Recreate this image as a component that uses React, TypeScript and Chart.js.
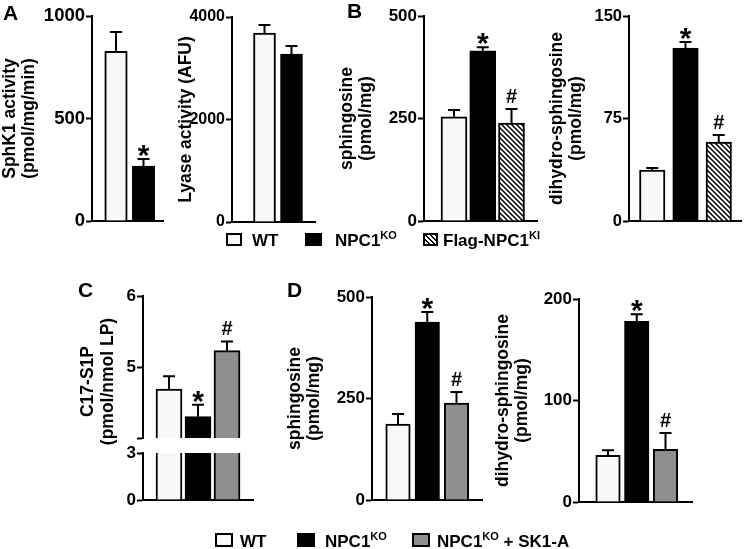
import React, { useEffect, useRef } from 'react';
import { Chart, registerables } from 'chart.js';
Chart.register(...registerables);

const FONT = '"Liberation Sans", Arial, Helvetica, sans-serif';

// ---------- data ----------
// Panel A
const groupsA = ['WT', 'NPC1KO'];
const sphk1Mean = [828, 268];
const sphk1Err = [94, 34];
const sphk1Marks = ['', '*'];
const sphk1Ticks = [0, 500, 1000];

const lyaseMean = [3688, 3278];
const lyaseErr = [156, 156];
const lyaseMarks = ['', ''];
const lyaseTicks = [0, 2000, 4000];

// Panel B
const groupsB = ['WT', 'NPC1KO', 'Flag-NPC1KI'];
const sphBMean = [254, 415, 239];
const sphBErr = [17, 9, 34];
const sphBMarks = ['', '*', '#'];
const sphBTicks = [0, 250, 500];

const dhsBMean = [37.3, 126.6, 57.8];
const dhsBErr = [1.5, 4.4, 5.2];
const dhsBMarks = ['', '*', '#'];
const dhsBTicks = [0, 75, 150];

// Panel C (broken axis)
const groupsC = ['WT', 'NPC1KO', 'NPC1KO + SK1-A'];
const c17Mean = [4.69, 4.3, 5.23];
const c17Err = [0.18, 0.17, 0.13];
const c17Marks = ['', '*', '#'];
const c17UpperTicks = [4, 5, 6];
const c17UpperLabels = ['', '5', '6'];
const c17LowerTicks = [0, 3];
const c17Break = 3;

// Panel D
const groupsD = ['WT', 'NPC1KO', 'NPC1KO + SK1-A'];
const sphDMean = [187, 438, 239];
const sphDErr = [25, 25, 27];
const sphDMarks = ['', '*', '#'];
const sphDTicks = [0, 250, 500];

const dhsDMean = [46, 178, 52];
const dhsDErr = [5, 7, 16];
const dhsDMarks = ['', '*', '#'];
const dhsDTicks = [0, 100, 200];

// ---------- styling ----------
const WT_FILL = '#f8f8f8';
const KO_FILL = '#000000';
const SK_FILL = '#8f8f8f';
const XH = 14;
const PR = 4;

function makeHatch(): CanvasPattern | string {
  const n = 5;
  const c = document.createElement('canvas');
  c.width = n;
  c.height = n;
  const g = c.getContext('2d');
  if (!g) return '#888';
  g.fillStyle = '#ffffff';
  g.fillRect(0, 0, n, n);
  g.strokeStyle = '#000';
  g.lineWidth = 1.5;
  g.beginPath();
  g.moveTo(-1, -1);
  g.lineTo(n + 1, n + 1);
  g.moveTo(-1, n - 1);
  g.lineTo(1, n + 1);
  g.moveTo(n - 1, -1);
  g.lineTo(n + 1, 1);
  g.stroke();
  return g.createPattern(c, 'repeat') || '#888';
}

type Spec = {
  key: string;
  labels: string[];
  values: number[];
  errs?: number[];
  marks?: string[];
  fills: string[];
  L: number; R: number; T: number; B: number;
  left: number; padTop: number;
  c0: number; s: number; bw: number;
  yMin: number; yMax: number;
  ticks: number[];
  tickLabels?: string[];
  tickSize: number;
  title?: string | string[];
  showX: boolean;
  clipAt?: number;
  borderTop: boolean;
};

function errPlugin(sp: Spec) {
  return {
    id: 'errbars_' + sp.key,
    afterDatasetsDraw(chart: any) {
      if (!sp.errs) return;
      const ctx = chart.ctx;
      const meta = chart.getDatasetMeta(0);
      const ys = chart.scales.y;
      ctx.save();
      ctx.strokeStyle = '#000';
      ctx.lineWidth = 2;
      meta.data.forEach((bar: any, i: number) => {
        const v = sp.values[i];
        const top = ys.getPixelForValue(v);
        const ey = ys.getPixelForValue(v + sp.errs![i]);
        const x = bar.x;
        ctx.beginPath();
        ctx.moveTo(x, top);
        ctx.lineTo(x, ey);
        ctx.moveTo(x - 6, ey);
        ctx.lineTo(x + 6, ey);
        ctx.stroke();
        const m = sp.marks ? sp.marks[i] : '';
        if (m) {
          ctx.fillStyle = '#000';
          ctx.textAlign = 'center';
          ctx.textBaseline = 'alphabetic';
          if (m === '*') {
            ctx.font = 'bold 30px ' + FONT;
            ctx.fillText(m, x, ey + 6);
          } else {
            ctx.font = 'bold 20px ' + FONT;
            ctx.fillText(m, x, ey - 6);
          }
        }
      });
      ctx.restore();
    },
  };
}

function buildConfig(sp: Spec, fills: any[]) {
  const min = 1 - (sp.c0 - sp.L) / sp.s;
  const max = min + (sp.R - sp.L) / sp.s;
  const vals = sp.values.map((v) => (sp.clipAt !== undefined ? Math.min(v, sp.clipAt) : v));
  return {
    type: 'bar' as const,
    data: {
      datasets: [
        {
          data: vals.map((v, i) => ({ x: i + 1, y: v })),
          backgroundColor: fills,
          borderColor: '#000',
          borderWidth: { top: sp.borderTop ? 2 : 0, left: 2, right: 2, bottom: 0 },
          borderSkipped: false,
          barThickness: sp.bw,
        },
      ],
    },
    options: {
      responsive: false,
      animation: false,
      devicePixelRatio: 1,
      layout: { padding: { top: sp.padTop, right: PR, left: 0, bottom: 0 } },
      plugins: { legend: { display: false }, tooltip: { enabled: false }, title: { display: false } },
      scales: {
        x: {
          type: 'linear',
          min,
          max,
          offset: false,
          ticks: { display: false },
          grid: { display: false },
          border: { display: sp.showX, color: '#000', width: 2 },
          afterFit: (s: any) => {
            s.height = XH;
          },
        },
        y: {
          type: 'linear',
          min: sp.yMin,
          max: sp.yMax,
          afterBuildTicks: (s: any) => {
            s.ticks = sp.ticks.map((v) => ({ value: v }));
          },
          ticks: {
            autoSkip: false,
            color: '#000',
            font: { family: FONT, size: sp.tickSize, weight: 'bold' },
            padding: 1,
            callback: (v: any, i: number) => (sp.tickLabels ? sp.tickLabels[i] : String(v)),
          },
          grid: {
            display: true,
            drawOnChartArea: false,
            drawTicks: true,
            tickLength: 6,
            tickWidth: 2,
            tickColor: '#000',
          },
          border: { display: true, color: '#000', width: 2 },
          title: sp.title
            ? {
                display: true,
                text: sp.title,
                color: '#000',
                font: { family: FONT, size: 17.5, weight: 'bold', lineHeight: 1.12 },
                padding: 0,
              }
            : { display: false },
          afterFit: (s: any) => {
            s.width = sp.L - sp.left;
          },
        },
      },
    },
    plugins: [errPlugin(sp)],
  };
}

function BarPanel({ sp }: { sp: Spec }) {
  const ref = useRef<HTMLCanvasElement>(null);
  const top = sp.T - sp.padTop;
  const w = sp.R + PR - sp.left;
  const h = sp.B + XH - top;
  useEffect(() => {
    if (!ref.current) return;
    const fills = sp.fills.map((f) => (f === 'hatch' ? makeHatch() : f));
    const chart = new Chart(ref.current, buildConfig(sp, fills) as any);
    return () => chart.destroy();
  }, []);
  return (
    <canvas
      ref={ref}
      width={w}
      height={h}
      style={{ position: 'absolute', left: sp.left, top, width: w, height: h }}
    />
  );
}

const specs: Spec[] = [
  {
    key: 'a1', labels: groupsA, values: sphk1Mean, errs: sphk1Err, marks: sphk1Marks,
    fills: [WT_FILL, KO_FILL], L: 92, R: 163, T: 16, B: 221, left: 0, padTop: 16,
    c0: 116, s: 27.5, bw: 22.5, yMin: 0, yMax: 1000, ticks: sphk1Ticks, tickSize: 18.5,
    title: ['SphK1 activity', '(pmol/mg/min)'], showX: true, borderTop: true,
  },
  {
    key: 'a2', labels: groupsA, values: lyaseMean, errs: lyaseErr, marks: lyaseMarks,
    fills: [WT_FILL, KO_FILL], L: 232, R: 315, T: 17, B: 222, left: 176, padTop: 16,
    c0: 264.5, s: 27, bw: 22, yMin: 0, yMax: 4000, ticks: lyaseTicks, tickSize: 16,
    title: 'Lyase activity (AFU)', showX: true, borderTop: true,
  },
  {
    key: 'b1', labels: groupsB, values: sphBMean, errs: sphBErr, marks: sphBMarks,
    fills: [WT_FILL, KO_FILL, 'hatch'], L: 424, R: 537, T: 16, B: 221, left: 337, padTop: 16,
    c0: 454, s: 28.75, bw: 26, yMin: 0, yMax: 500, ticks: sphBTicks, tickSize: 17,
    title: ['sphingosine', '(pmol/mg)'], showX: true, borderTop: true,
  },
  {
    key: 'b2', labels: groupsB, values: dhsBMean, errs: dhsBErr, marks: dhsBMarks,
    fills: [WT_FILL, KO_FILL, 'hatch'], L: 629, R: 741, T: 16, B: 221, left: 547, padTop: 16,
    c0: 652.25, s: 33.25, bw: 25.5, yMin: 0, yMax: 150, ticks: dhsBTicks, tickSize: 16.5,
    title: ['dihydro-sphingosine', '(pmol/mg)'], showX: true, borderTop: true,
  },
  {
    key: 'c1', labels: groupsC, values: c17Mean, errs: c17Err, marks: c17Marks,
    fills: [WT_FILL, KO_FILL, SK_FILL], L: 143, R: 253, T: 296, B: 438, left: 100, padTop: 16,
    c0: 169, s: 29, bw: 26, yMin: 4, yMax: 6, ticks: c17UpperTicks, tickLabels: c17UpperLabels,
    tickSize: 17, showX: false, borderTop: true,
  },
  {
    key: 'c2', labels: groupsC, values: c17Mean,
    fills: [WT_FILL, KO_FILL, SK_FILL], L: 143, R: 253, T: 453, B: 500, left: 100, padTop: 12,
    c0: 169, s: 29, bw: 26, yMin: 0, yMax: 3, ticks: c17LowerTicks, tickSize: 17,
    showX: true, clipAt: c17Break, borderTop: false,
  },
  {
    key: 'd1', labels: groupsD, values: sphDMean, errs: sphDErr, marks: sphDMarks,
    fills: [WT_FILL, KO_FILL, SK_FILL], L: 372, R: 482, T: 297, B: 500, left: 285, padTop: 16,
    c0: 398, s: 29.25, bw: 24.5, yMin: 0, yMax: 500, ticks: sphDTicks, tickSize: 17,
    title: ['sphingosine', '(pmol/mg)'], showX: true, borderTop: true,
  },
  {
    key: 'd2', labels: groupsD, values: dhsDMean, errs: dhsDErr, marks: dhsDMarks,
    fills: [WT_FILL, KO_FILL, SK_FILL], L: 579, R: 692, T: 299, B: 502, left: 493, padTop: 16,
    c0: 608, s: 28.75, bw: 24.5, yMin: 0, yMax: 200, ticks: dhsDTicks, tickSize: 17,
    title: ['dihydro-sphingosine', '(pmol/mg)'], showX: true, borderTop: true,
  },
];

const txt = (fs: number): React.CSSProperties => ({
  position: 'absolute',
  fontFamily: FONT,
  fontWeight: 'bold',
  fontSize: fs,
  lineHeight: fs + 'px',
  whiteSpace: 'nowrap',
  color: '#000',
});

function Letter({ ch, x, capTop }: { ch: string; x: number; capTop: number }) {
  return <div style={{ ...txt(21), left: x, top: capTop - 2.7 }}>{ch}</div>;
}

function LegendBox({ x, y, w, h, fill, hatch }: { x: number; y: number; w: number; h: number; fill: string; hatch?: boolean }) {
  const bg = hatch
    ? 'repeating-linear-gradient(45deg, #fff 0px, #fff 2.2px, #000 2.2px, #000 3.6px)'
    : fill;
  return (
    <div
      style={{
        position: 'absolute',
        left: x,
        top: y,
        width: w,
        height: h,
        boxSizing: 'border-box',
        border: '2px solid #000',
        background: bg,
      }}
    />
  );
}

function LegendText({ x, base, main, sup, tail }: { x: number; base: number; main: string; sup?: string; tail?: string }) {
  return (
    <div style={{ ...txt(17), left: x, top: base - 14.4 }}>
      {main}
      {sup ? (
        <span style={{ fontSize: 11, position: 'relative', top: -7 }}>{sup}</span>
      ) : null}
      {tail || ''}
    </div>
  );
}

export default function App() {
  return (
    <div
      style={{
        position: 'fixed',
        left: 0,
        top: 0,
        width: 745,
        height: 549,
        background: '#fff',
        overflow: 'hidden',
      }}
    >
      {specs.map((sp) => (
        <BarPanel key={sp.key} sp={sp} />
      ))}

      {/* Panel C rotated title */}
      <div
        style={{
          ...txt(17.5),
          lineHeight: '19.5px',
          textAlign: 'center',
          left: 97 - 90,
          top: 381 - 19.5,
          width: 180,
          height: 39,
          transform: 'rotate(-90deg)',
          transformOrigin: '90px 19.5px',
        }}
      >
        C17-S1P
        <br />
        (pmol/nmol LP)
      </div>

      <Letter ch="A" x={3} capTop={5} />
      <Letter ch="B" x={347} capTop={3} />
      <Letter ch="C" x={78} capTop={282} />
      <Letter ch="D" x={287} capTop={282} />

      {/* legend row 1 */}
      <LegendBox x={226} y={233} w={16} h={13} fill={WT_FILL} />
      <LegendText x={252} base={246} main="WT" />
      <LegendBox x={305} y={233} w={17} h={13} fill={KO_FILL} />
      <LegendText x={335} base={246} main="NPC1" sup="KO" />
      <LegendBox x={423} y={233} w={15} h={13} fill="#fff" hatch />
      <LegendText x={443} base={246} main="Flag-NPC1" sup="KI" />

      {/* legend row 2 */}
      <LegendBox x={215} y={533} w={18} h={14} fill={WT_FILL} />
      <LegendText x={240} base={547} main="WT" />
      <LegendBox x={297} y={533} w={18} h={14} fill={KO_FILL} />
      <LegendText x={325} base={547} main="NPC1" sup="KO" />
      <LegendBox x={412} y={533} w={18} h={14} fill={SK_FILL} />
      <LegendText x={437} base={547} main="NPC1" sup="KO" tail=" + SK1-A" />
    </div>
  );
}
